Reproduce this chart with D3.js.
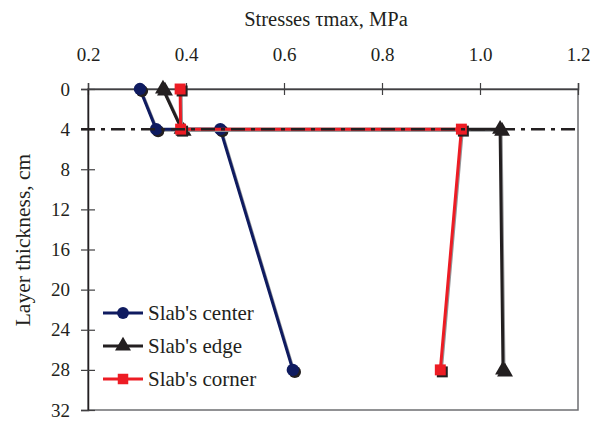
<!DOCTYPE html>
<html>
<head>
<meta charset="utf-8">
<script src="https://cdn.jsdelivr.net/npm/d3@7"></script>
<style>
  body { margin: 0; background: #fff; }
  text { font-family: 'Liberation Serif', 'Times New Roman', serif; fill: #231f20; }
</style>
</head>
<body>
<svg id="chart" width="600" height="422"></svg>
<script>
const depths = [0, 4, 4, 28]
const centerValues = [0.306, 0.339, 0.47, 0.618]
const edgeValues = [0.353, 0.391, 1.041, 1.047]
const cornerValues = [0.388, 0.389, 0.962, 0.919]
const xTicks = [0.2, 0.4, 0.6, 0.8, 1.0, 1.2]
const yTicks = [0, 4, 8, 12, 16, 20, 24, 28, 32]
const interfaceDepth = 4

const series = [
    { name: "Slab's center", values: centerValues, color: '#0f1b60', shape: d3.symbolCircle },
    { name: "Slab's edge", values: edgeValues, color: '#231f20', shape: d3.symbolTriangle },
    { name: "Slab's corner", values: cornerValues, color: '#ed1c24', shape: d3.symbolSquare }
]

const svg = d3.select('#chart')
const plotLeft = 88, plotRight = 578, plotTop = 89, plotBottom = 410
const serif = "'Liberation Serif', 'Times New Roman', serif"

const x = d3.scaleLinear().domain([0.2, 1.2]).range([plotLeft, plotRight])
const y = d3.scaleLinear().domain([0, 32]).range([plotTop, plotBottom])

// frame
svg.append('rect')
    .attr('x', plotLeft).attr('y', plotTop)
    .attr('width', plotRight - plotLeft).attr('height', plotBottom - plotTop)
    .attr('fill', 'none').attr('stroke', '#6d6e71').attr('stroke-width', 1.5)

const xAxis = svg.append('g')
    .attr('transform', `translate(0,${plotTop})`)
    .call(d3.axisTop(x).tickValues(xTicks).tickFormat(d3.format('.1f')).tickSize(6).tickPadding(22))
    .attr('font-family', serif).attr('font-size', 19)
xAxis.select('.domain').attr('stroke', '#414042').attr('stroke-width', 1.5)
xAxis.selectAll('.tick line').attr('y2', 6).attr('y1', -6).attr('stroke', '#414042').attr('stroke-width', 1.2)
xAxis.selectAll('.tick text').attr('fill', '#231f20')

const yAxis = svg.append('g')
    .attr('transform', `translate(${plotLeft},0)`)
    .call(d3.axisLeft(y).tickValues(yTicks).tickSize(7).tickPadding(11))
    .attr('font-family', serif).attr('font-size', 19)
yAxis.select('.domain').attr('stroke', '#231f20').attr('stroke-width', 1.5)
yAxis.selectAll('.tick line').attr('x1', 7).attr('x2', -7).attr('stroke', '#414042').attr('stroke-width', 1.2)
yAxis.selectAll('.tick text').attr('fill', '#231f20')

svg.append('text')
    .attr('x', 326).attr('y', 26)
    .attr('text-anchor', 'middle')
    .attr('font-family', serif)
    .attr('font-size', 20.5)
    .text('Stresses τmax, MPa')

svg.append('text')
    .attr('transform', 'translate(30,240) rotate(-90)')
    .attr('text-anchor', 'middle')
    .attr('font-family', serif)
    .attr('font-size', 21.5)
    .text('Layer thickness, cm')

const line = d3.line().x(d => x(d[0])).y(d => y(d[1]))

series.forEach(s => {
    const pts = s.values.map((v, i) => [v, depths[i]])
    const g = svg.append('g')
    g.append('path').datum(pts)
        .attr('d', line).attr('fill', 'none')
        .attr('stroke', '#939598').attr('stroke-width', 3)
        .attr('transform', 'translate(1,1)')
    g.append('path').datum(pts)
        .attr('d', line).attr('fill', 'none')
        .attr('stroke', s.color).attr('stroke-width', 3)
    const sym = d3.symbol().type(s.shape).size(s.shape === d3.symbolTriangle ? 110 : 120)
    g.selectAll('path.shadow').data(pts).join('path')
        .attr('class', 'shadow')
        .attr('d', sym)
        .attr('fill', '#231f20')
        .attr('transform', d => `translate(${x(d[0]) + 2},${y(d[1]) + 2})`)
    g.selectAll('path.mark').data(pts).join('path')
        .attr('class', 'mark')
        .attr('d', sym)
        .attr('fill', s.color)
        .attr('transform', d => `translate(${x(d[0])},${y(d[1])})`)
})

// dash-dot interface line
svg.append('line')
    .attr('x1', plotLeft - 7).attr('x2', plotRight)
    .attr('y1', y(interfaceDepth)).attr('y2', y(interfaceDepth))
    .attr('stroke', '#231f20').attr('stroke-width', 2.5)
    .attr('stroke-dasharray', '14,6,4,6')

// legend
const legend = svg.append('g').attr('transform', 'translate(103,313)')
series.forEach((s, i) => {
    const row = legend.append('g').attr('transform', `translate(0,${i * 33})`)
    row.append('line').attr('x1', 0).attr('x2', 40)
        .attr('stroke', s.color).attr('stroke-width', 3)
    row.append('path')
        .attr('d', d3.symbol().type(s.shape).size(110))
        .attr('fill', s.color)
        .attr('transform', 'translate(20,0)')
    row.append('text')
        .attr('x', 45).attr('y', 7)
        .attr('font-family', serif)
        .attr('font-size', 21)
        .text(s.name)
})
</script>
</body>
</html>
